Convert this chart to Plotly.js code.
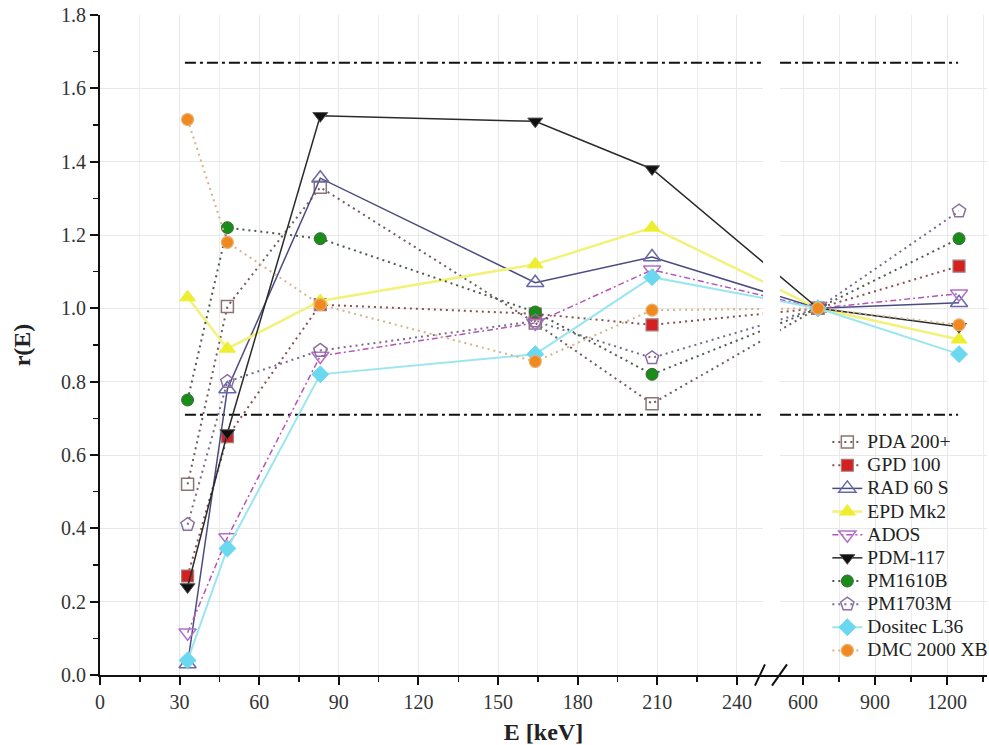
<!DOCTYPE html>
<html>
<head>
<meta charset="utf-8">
<script src="https://cdn.plot.ly/plotly-3.0.1.min.js"></script>
<style>
html,body{margin:0;padding:0;background:#fff;}
#chart{width:989px;height:745px;}
#chart .legendtext{font-size:19.5px !important;}
#chart .legend .scrollbox{clip-path:none !important;}
</style>
</head>
<body>
<div id="chart"></div>
<script>
// ---- data ----
const energies = [33, 48, 83, 164, 208, 662, 1250];
const seriesNames = ["PDA 200+", "GPD 100", "RAD 60 S", "EPD Mk2", "ADOS", "PDM-117", "PM1610B", "PM1703M", "Dositec L36", "DMC 2000 XB"];
const pda200   = [0.52, 1.005, 1.33, 0.96, 0.74, 1.00, null];
const gpd100   = [0.27, 0.65, 1.01, 0.985, 0.955, 1.00, 1.115];
const rad60s   = [0.03, 0.78, 1.355, 1.07, 1.14, 1.00, 1.015];
const epdMk2   = [1.03, 0.89, 1.02, 1.12, 1.22, 1.00, 0.915];
const ados     = [0.115, 0.375, 0.87, 0.96, 1.105, 1.00, 1.04];
const pdm117   = [0.24, 0.66, 1.525, 1.51, 1.38, 1.00, 0.95];
const pm1610b  = [0.75, 1.22, 1.19, 0.99, 0.82, 1.00, 1.19];
const pm1703m  = [0.41, 0.80, 0.885, 0.965, 0.865, 1.00, 1.265];
const dositec  = [0.04, 0.345, 0.82, 0.875, 1.085, 1.00, 0.875];
const dmc2000  = [1.515, 1.18, 1.01, 0.855, 0.995, 1.00, 0.955];

const limitUpper = 1.67;
const limitLower = 0.71;
const limitSeg1 = [32, 249];
const limitSeg2 = [504, 1246];

const majorTickE = [0, 30, 60, 90, 120, 150, 180, 210, 240, 600, 900, 1200];
const majorTickText = ["0", "30", "60", "90", "120", "150", "180", "210", "240", "600", "900", "1200"];
const minorTickE = [15, 45, 75, 105, 135, 165, 195, 225, 750, 1050, 1350];

// broken axis: linear 0..250 keV, compressed above the break
function mapE(E) {
  if (E === null) return null;
  return E < 400 ? E : 264.9 + (E - 600) * 0.0904;
}

const styles = [
  {line: {color: '#6e5c5c', width: 2, dash: '2px,4px'}, marker: {symbol: 'square-open', color: '#8a7474', size: 12, line: {width: 1.5}}},
  {line: {color: '#8a5050', width: 2, dash: '2px,4px'}, marker: {symbol: 'square', color: '#d42020', size: 12, line: {color: '#a08080', width: 1.2}}},
  {line: {color: '#4b4b80', width: 1.5}, marker: {symbol: 'triangle-up-open', color: '#6868a8', size: 15, line: {width: 1.5}}},
  {line: {color: '#f2f27a', width: 2.5}, marker: {symbol: 'triangle-up', color: '#eeee30', size: 14, line: {color: '#eeee30', width: 1}}},
  {line: {color: '#b455b4', width: 1.5, dash: '6px,3px,2px,3px'}, marker: {symbol: 'triangle-down-open', color: '#b070c8', size: 15, line: {width: 1.5}}},
  {line: {color: '#2a2a2a', width: 1.5}, marker: {symbol: 'triangle-down', color: '#101010', size: 13, line: {color: '#555', width: 1}}},
  {line: {color: '#4c5c4c', width: 2, dash: '2px,4px'}, marker: {symbol: 'circle', color: '#1a8c1a', size: 12, line: {color: '#3a6a3a', width: 1}}},
  {line: {color: '#7a6a8a', width: 2, dash: '2px,4px'}, marker: {symbol: 'pentagon-open', color: '#8a70a0', size: 14, line: {width: 1.5}}},
  {line: {color: '#9ae6f0', width: 2}, marker: {symbol: 'diamond', color: '#6ad8ee', size: 13, line: {color: '#6ad8ee', width: 1}}},
  {line: {color: '#d4b48a', width: 2, dash: '2px,4px'}, marker: {symbol: 'circle', color: '#f08a20', size: 12, line: {color: '#e8b070', width: 1.2}}}
];

const allSeries = [pda200, gpd100, rad60s, epdMk2, ados, pdm117, pm1610b, pm1703m, dositec, dmc2000];
const xPos = energies.map(mapE);

const traces = [];
// limit lines
[limitUpper, limitLower].forEach(lv => {
  [limitSeg1, limitSeg2].forEach(seg => {
    traces.push({
      x: seg.map(mapE), y: [lv, lv], mode: 'lines', showlegend: false, hoverinfo: 'skip',
      line: {color: '#111', width: 2, dash: '11px,4px,3px,4px'}
    });
  });
});
allSeries.forEach((vals, i) => {
  traces.push({
    x: xPos, y: vals, name: seriesNames[i], mode: 'lines+markers',
    connectgaps: true,
    line: styles[i].line, marker: styles[i].marker
  });
});

const serif = 'Liberation Serif, Times New Roman, serif';
const layout = {
  width: 989, height: 745,
  margin: {l: 100, r: 2, t: 15, b: 70},
  paper_bgcolor: '#fff', plot_bgcolor: '#fff',
  font: {family: serif, size: 20, color: '#333'},
  showlegend: true,
  legend: {
    x: 0.82, y: 0.378, xanchor: 'left', yanchor: 'top',
    bgcolor: 'rgba(0,0,0,0)', borderwidth: 0,
    font: {family: serif, size: 15.5, color: '#222'},
    tracegroupgap: 0
  },
  xaxis: {
    range: [0, 334.2], showline: true, linecolor: '#111', linewidth: 2,
    tickmode: 'array', tickvals: majorTickE.map(mapE), ticktext: majorTickText,
    ticks: 'outside', ticklen: 8, tickwidth: 2, tickcolor: '#111',
    showgrid: true, gridcolor: '#e8e8e8', gridwidth: 1, zeroline: false,
    minor: {tickmode: 'array', tickvals: minorTickE.map(mapE), ticks: 'outside', ticklen: 5, tickwidth: 1.5, tickcolor: '#111', showgrid: true, gridcolor: '#ececec', gridwidth: 1},
    tickfont: {family: serif, size: 20, color: '#333'},
    title: {text: '<b>E [keV]</b>', font: {family: serif, size: 24, color: '#222'}, standoff: 12}
  },
  yaxis: {
    range: [0, 1.8], showline: true, linecolor: '#111', linewidth: 2,
    tickmode: 'linear', tick0: 0, dtick: 0.2, tickformat: '.1f',
    ticks: 'outside', ticklen: 8, tickwidth: 2, tickcolor: '#111',
    showgrid: true, gridcolor: '#e8e8e8', gridwidth: 1, zeroline: false,
    minor: {dtick: 0.1, ticks: 'outside', ticklen: 5, tickwidth: 1.5, tickcolor: '#111', showgrid: false},
    tickfont: {family: serif, size: 20, color: '#333'},
    title: {text: '<b>r(E)</b>', font: {family: serif, size: 24, color: '#222'}, standoff: 24}
  },
  shapes: [
    {type: 'rect', xref: 'paper', yref: 'paper', x0: 0.7475, x1: 0.7666, y0: 0.004, y1: 1, fillcolor: '#fff', line: {width: 0}, layer: 'above'},
    {type: 'line', xref: 'paper', yref: 'paper', x0: 0.7384, y0: -0.016, x1: 0.7497, y1: 0.016, line: {color: '#111', width: 2}},
    {type: 'line', xref: 'paper', yref: 'paper', x0: 0.7576, y0: -0.016, x1: 0.7745, y1: 0.016, line: {color: '#111', width: 2}}
  ]
};

Plotly.newPlot('chart', traces, layout, {displayModeBar: false, staticPlot: true});
</script>
</body>
</html>
